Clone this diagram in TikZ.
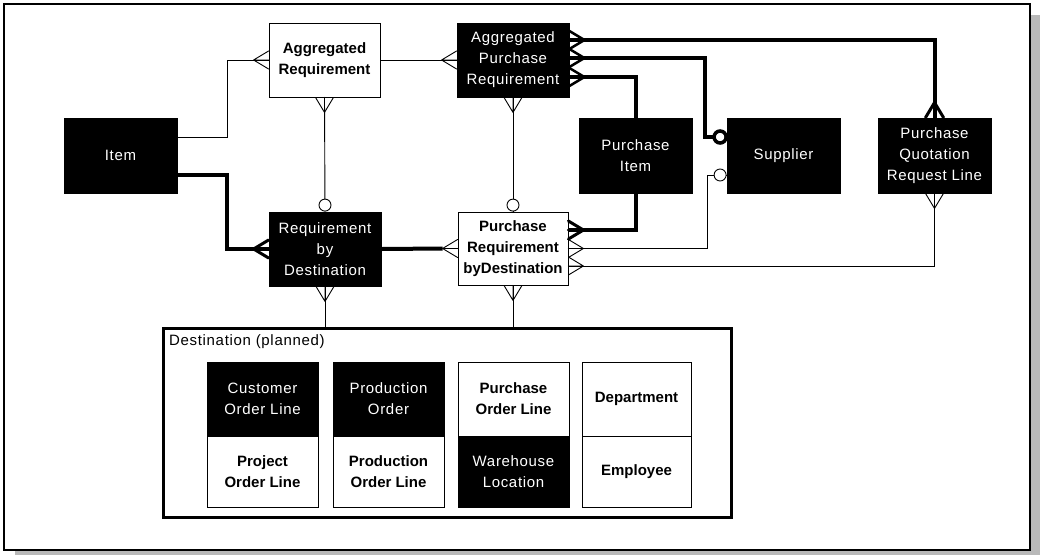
\documentclass[tikz,border=0pt]{standalone}
\usepackage{fontspec}
\setmainfont{Liberation Sans}
\newfontfamily\lightfont[LetterSpace=4.5]{Liberation Sans}
\usetikzlibrary{calc}

\tikzset{
  entity/.style={draw=black, line width=0.8pt, inner sep=0pt, align=center},
  dark/.style={entity, fill=black, text=white, font=\lightfont\fontsize{15}{21}\selectfont},
  light/.style={entity, fill=white, text=black, font=\bfseries\fontsize{15}{21}\selectfont},
  weak/.style={draw=black, line width=0.9pt},
  strong/.style={draw=black, line width=4pt},
  % crow's foot: origin on the box border, apex pointing outwards along +x
  many/.pic={\draw[line join=round, line cap=round] (0,-9) -- (15,0) -- (0,9) (0,0) -- (15,0);},
  % optional marker: small ring touching the box border
  opt/.pic={\draw[fill=white] (6.5,0) circle[radius=6pt];},
}

\begin{document}
\begin{tikzpicture}[x=1pt,y=-1pt]
\useasboundingbox (0,0) rectangle (1040,555);
\fill[white] (0,0) rectangle (1040,555);

% drop shadow and frame
\fill[gray!55] (1031,15) rectangle (1040,555);
\fill[gray!55] (15,551) rectangle (1040,555);
\draw[line width=1.2pt] (4,4) rectangle (1030,550);

% entities
\node[light, minimum width=111pt, minimum height=74pt] (aggreq) at (324.5,60) {Aggregated\\Requirement};
\node[dark,  minimum width=112pt, minimum height=74pt] (apr)    at (513,60)   {Aggregated\\Purchase\\Requirement};
\node[dark,  minimum width=113pt, minimum height=75pt] (item)   at (120.5,155.5) {Item};
\node[dark,  minimum width=112pt, minimum height=74pt] (rbd)    at (325,249)  {Requirement\\by\\Destination};
\node[light, minimum width=110pt, minimum height=73pt] (prbd)   at (513,248.5) {Purchase\\Requirement\\byDestination};
\node[dark,  minimum width=113pt, minimum height=75pt] (pitem)  at (635.5,155.5) {Purchase\\Item};
\node[dark,  minimum width=113pt, minimum height=75pt] (supplier) at (783.5,155.5) {Supplier};
\node[dark,  minimum width=113pt, minimum height=75pt] (pqrl)   at (934.5,155.5) {Purchase\\Quotation\\Request Line};

% destination container
\node[draw=black, line width=3pt, minimum width=568pt, minimum height=189pt, inner sep=0pt] (dest) at (447,422.5) {};
\node[anchor=base west, inner sep=0pt, font=\lightfont\fontsize{15}{21}\selectfont] (destlabel) at (169,345) {Destination (planned)};

\node[dark,  minimum width=111pt, minimum height=74pt] (col) at (262.5,399) {Customer\\Order Line};
\node[light, minimum width=111pt, minimum height=71pt] (pol) at (262.5,471.5) {Project\\Order Line};
\node[dark,  minimum width=111pt, minimum height=74pt] (po)  at (388.5,399) {Production\\Order};
\node[light, minimum width=111pt, minimum height=71pt] (prol) at (388.5,471.5) {Production\\Order Line};
\node[light, minimum width=111pt, minimum height=74pt] (purol) at (513.5,399) {Purchase\\Order Line};
\node[dark,  minimum width=111pt, minimum height=71pt] (wloc) at (513.5,471.5) {Warehouse\\Location};
\node[light, minimum width=109pt, minimum height=74pt] (dept) at (636.5,399) {Department};
\node[light, minimum width=109pt, minimum height=71pt] (emp)  at (636.5,471.5) {Employee};

% bend points
\coordinate (b1) at (227,137);
\coordinate (b2) at (227,175);
\coordinate (k1) at (934.5,40);
\coordinate (k2) at (705,58);
\coordinate (k3) at (635.5,77);
\coordinate (k4) at (707,175);

% Item -- Aggregated Requirement
\draw[weak] (item.east |- b1) -- (b1) |- (aggreq.west);
\pic[weak, rotate=180] at (aggreq.west) {many};

% Item -- Requirement by Destination
\draw[strong] (item.east |- b2) -- (b2) |- (rbd.west);
\pic[line width=3pt, rotate=180] at (rbd.west) {many};

% Aggregated Requirement -- Aggregated Purchase Requirement
\draw[weak] (aggreq.east) -- (apr.west);
\pic[weak, rotate=180] at (apr.west) {many};

% Aggregated Requirement -- Requirement by Destination
\draw[weak] (aggreq.south) -- (rbd.north);
\pic[weak, rotate=-90] at (aggreq.south) {many};
\pic[weak, rotate=90] at (rbd.north) {opt};

% Aggregated Purchase Requirement -- Purchase Requirement byDestination
\draw[weak] (apr.south) -- (prbd.north);
\pic[weak, rotate=-90] at (apr.south) {many};
\pic[weak, rotate=90] at (prbd.north) {opt};

% Requirement by Destination -- Purchase Requirement byDestination
\draw[strong] (rbd.east) -- ([xshift=-15pt]prbd.west);
\draw[weak] ([xshift=-15pt]prbd.west) -- (prbd.west);
\pic[weak, rotate=180] at (prbd.west) {many};

% links down to the destination container
\draw[weak] (rbd.south) -- (rbd.south |- dest.north);
\pic[weak, rotate=-90] at (rbd.south) {many};
\draw[weak] (prbd.south) -- (prbd.south |- dest.north);
\pic[weak, rotate=-90] at (prbd.south) {many};

% Aggregated Purchase Requirement -- Purchase Quotation Request Line
\draw[strong] (apr.east |- k1) -| (pqrl.north);
\pic[line width=2.5pt] at (apr.east |- k1) {many};
\pic[line width=3pt, rotate=90] at (pqrl.north) {many};

% Aggregated Purchase Requirement -- Supplier
\draw[strong] (apr.east |- k2) -- (k2) |- ([yshift=18.5pt]supplier.west);
\pic[line width=2.5pt] at (apr.east |- k2) {many};
\pic[line width=3.5pt, rotate=180] at ([yshift=18.5pt]supplier.west) {opt};

% Aggregated Purchase Requirement -- Purchase Item
\draw[strong] (apr.east |- k3) -| (pitem.north);
\pic[line width=2.5pt] at (apr.east |- k3) {many};

% Purchase Item -- Purchase Requirement byDestination
\draw[strong] (pitem.south) |- ([yshift=18.5pt]prbd.east);
\pic[line width=3pt] at ([yshift=18.5pt]prbd.east) {many};

% Supplier -- Purchase Requirement byDestination
\draw[weak] ([yshift=-19.5pt]supplier.west) -- (k4) |- (prbd.east);
\pic[weak, rotate=180] at ([yshift=-19.5pt]supplier.west) {opt};
\pic[weak] at (prbd.east) {many};

% Purchase Quotation Request Line -- Purchase Requirement byDestination
\draw[weak] (pqrl.south) |- ([yshift=-17.5pt]prbd.east);
\pic[weak, rotate=-90] at (pqrl.south) {many};
\pic[weak] at ([yshift=-17.5pt]prbd.east) {many};
\end{tikzpicture}
\end{document}
